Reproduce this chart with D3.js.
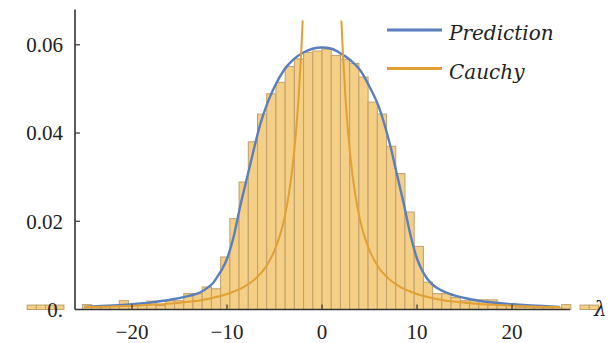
<!DOCTYPE html>
<html>
<head>
<meta charset="utf-8">
<title>Prediction vs Cauchy</title>
<script src="https://d3js.org/d3.v7.min.js"></script>
<style>
  body { margin: 0; background: #fff; }
  text { font-family: "Liberation Serif", "DejaVu Serif", serif; fill: #222; }
  text.it { font-family: "DejaVu Serif", "Liberation Serif", serif; font-style: italic; }
  .bar { fill: #f5cf86; stroke: #bf9f6c; stroke-width: 1; }
</style>
</head>
<body>
<script>
// histogram: bins of equal width, first bin starts at binStart
var binWidth = 0.97;
var binFirst = -32;          // index of first bin (left edge = binFirst*binWidth)
var binHeights = [
  0.001, 0.001, 0.001, 0.001, 0, 0, 0.0011, 0.0008, 0.0008, 0.0008,
  0.002, 0.0009, 0.0009, 0.0019, 0.0009, 0.002, 0.002, 0.0036, 0.0036, 0.0051,
  0.0047, 0.0119, 0.0206, 0.0289, 0.038, 0.0443, 0.0489, 0.0515, 0.0551, 0.0568,
  0.0583, 0.0586, 0.059, 0.0576, 0.0567, 0.0558, 0.0527, 0.047, 0.0443, 0.037,
  0.0308, 0.0221, 0.0143, 0.0062, 0.0036, 0.0036, 0.0027, 0.002, 0.002, 0.0022,
  0.0022, 0.0013, 0.0013, 0.0005, 0.0005, 0.0005, 0.0005, 0.0005, 0.0011, 0,
  0.001, 0.001
];

// "Prediction" curve
var predLambda = [-25, -22, -20, -18, -16, -14, -13, -12, -11.4, -11, -10.5, -10, -9.3, -8.6, -7.9, -7.2, -6.5, -5.8, -5, -4, -3, -2, -1, 0,
                  1, 2, 3, 4, 5, 6, 6.5, 7.2, 7.9, 8.6, 9.3, 10, 10.5, 11, 11.7, 12.5, 13.5, 15, 17, 20, 22, 25];
var predValue  = [0.0006, 0.0009, 0.0012, 0.0016, 0.0022, 0.0031, 0.0037, 0.005, 0.0062, 0.0075, 0.0092, 0.0115, 0.0165, 0.0235, 0.0298, 0.0361, 0.042, 0.0465, 0.0505, 0.0543, 0.0567, 0.0582, 0.0591, 0.0594,
                  0.0591, 0.058, 0.0565, 0.0543, 0.0505, 0.0458, 0.0425, 0.037, 0.0305, 0.024, 0.017, 0.0115, 0.009, 0.0072, 0.0055, 0.0044, 0.0035, 0.0026, 0.0018, 0.0012, 0.0009, 0.0006];

// "Cauchy" curve, two branches (it leaves the top of the plot near lambda = +-2)
var cauchyLambda = [1.8, 1.9, 2, 2.2, 2.5, 3, 3.5, 4, 5, 6, 7, 8, 10, 12, 15, 20, 25];
var cauchyValue  = [0.0787, 0.0726, 0.0672, 0.0579, 0.0469, 0.0343, 0.026, 0.0203, 0.0134, 0.0094, 0.007, 0.0054, 0.0035, 0.0024, 0.00155, 0.00087, 0.00056];

var yTicks = [0.02, 0.04, 0.06];
var xTicks = [-20, -10, 0, 10, 20];
var seriesNames = ["Prediction", "Cauchy"];
var seriesColors = ["#5b7fbc", "#e0a035"];

var W = 609, H = 343;
var x = d3.scaleLinear().domain([-26, 26.1]).range([75, 570]);
var y = d3.scaleLinear().domain([0, 0.068]).range([309.5, 9.5]);

var svg = d3.select("body").append("svg")
    .attr("width", W)
    .attr("height", H);

svg.append("defs").append("clipPath")
    .attr("id", "plotclip")
  .append("rect")
    .attr("x", 0).attr("width", W)
    .attr("y", y(0.0655)).attr("height", H);

// bars (not clipped, as in the original some spill past the axes)
var bins = binHeights.map(function(h, i) {
  var k = binFirst + i;
  return {x0: k * binWidth, x1: (k + 1) * binWidth, h: h};
}).filter(function(d) { return d.h > 0; });

svg.append("g").selectAll("rect")
  .data(bins)
  .enter().append("rect")
    .attr("class", "bar")
    .attr("x", function(d) { return x(d.x0); })
    .attr("width", function(d) { return x(d.x1) - x(d.x0); })
    .attr("y", function(d) { return y(d.h); })
    .attr("height", function(d) { return y(0) - y(d.h); });

var line = d3.line()
    .x(function(d) { return x(d[0]); })
    .y(function(d) { return y(d[1]); })
    .curve(d3.curveMonotoneX);

var predData = predLambda.map(function(l, i) { return [l, predValue[i]]; });
var cauchyRight = cauchyLambda.map(function(l, i) { return [l, cauchyValue[i]]; });
var cauchyLeft = cauchyLambda.map(function(l, i) { return [-l, cauchyValue[i]]; }).reverse();

var curves = svg.append("g").attr("clip-path", "url(#plotclip)");
curves.append("path")
    .datum(predData)
    .attr("d", line)
    .attr("fill", "none")
    .attr("stroke", seriesColors[0])
    .attr("stroke-width", 2.4);
[cauchyLeft, cauchyRight].forEach(function(c) {
  curves.append("path")
      .datum(c)
      .attr("d", line)
      .attr("fill", "none")
      .attr("stroke", seriesColors[1])
      .attr("stroke-width", 2);
});

// axes
svg.append("line")
    .attr("x1", x(-26)).attr("x2", x(-26))
    .attr("y1", y(0.068)).attr("y2", y(0))
    .attr("stroke", "#333").attr("stroke-width", 1.6);
svg.append("line")
    .attr("x1", x(-26)).attr("x2", x(26.1))
    .attr("y1", y(0)).attr("y2", y(0))
    .attr("stroke", "#333").attr("stroke-width", 1.6);

svg.append("g").selectAll("line")
  .data(yTicks)
  .enter().append("line")
    .attr("x1", x(-26)).attr("x2", x(-26) + 5)
    .attr("y1", function(d) { return y(d); })
    .attr("y2", function(d) { return y(d); })
    .attr("stroke", "#333").attr("stroke-width", 1.2);

svg.append("g").selectAll("text")
  .data([0].concat(yTicks))
  .enter().append("text")
    .attr("x", 63)
    .attr("y", function(d) { return y(d); })
    .attr("dy", "0.35em")
    .attr("text-anchor", "end")
    .style("font-size", "21px")
    .text(function(d) { return d === 0 ? "0." : d.toFixed(2); });

svg.append("g").selectAll("line")
  .data(xTicks)
  .enter().append("line")
    .attr("x1", function(d) { return x(d); })
    .attr("x2", function(d) { return x(d); })
    .attr("y1", y(0)).attr("y2", y(0) - 5)
    .attr("stroke", "#333").attr("stroke-width", 1.2);

svg.append("g").selectAll("text")
  .data(xTicks)
  .enter().append("text")
    .attr("x", function(d) { return x(d); })
    .attr("y", 339)
    .attr("text-anchor", "middle")
    .style("font-size", "21px")
    .text(function(d) { return d < 0 ? "\u2212" + (-d) : String(d); });

svg.append("text")
    .attr("class", "it")
    .attr("x", 594)
    .attr("y", 316)
    .style("font-size", "20px")
    .text("\u03bb");

// legend
var legend = svg.append("g");
seriesNames.forEach(function(name, i) {
  var ly = 30 + i * 38.5;
  legend.append("line")
      .attr("x1", 387).attr("x2", 442)
      .attr("y1", ly).attr("y2", ly)
      .attr("stroke", seriesColors[i])
      .attr("stroke-width", 3.2);
  legend.append("text")
      .attr("class", "it")
      .attr("x", 449)
      .attr("y", ly + 10)
      .style("font-size", "20px")
      .text(name);
});
</script>
</body>
</html>
